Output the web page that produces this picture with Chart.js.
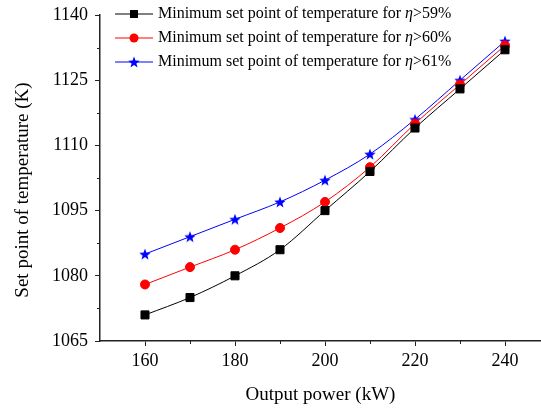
<!DOCTYPE html>
<html>
<head>
<meta charset="utf-8">
<script src="https://cdn.jsdelivr.net/npm/chart.js@4.4.0/dist/chart.umd.min.js"></script>
<style>
  html, body { margin: 0; padding: 0; background: #fff; }
  #wrap { width: 541px; height: 408px; }
</style>
</head>
<body>
<div id="wrap"><canvas id="myChart"></canvas></div>
<script>
// output power (kW) and minimum temperature set points (K)
const power = [160, 170, 180, 190, 200, 210, 220, 230, 240];
const eta59 = [1071, 1075, 1080, 1086, 1095, 1104, 1114, 1123, 1132];
const eta60 = [1078, 1082, 1086, 1091, 1097, 1105, 1115, 1124, 1133];
const eta61 = [1085, 1089, 1093, 1097, 1102, 1108, 1116, 1125, 1134];
const seriesNames = ['59%', '60%', '61%'];
const xTicks = [160, 180, 200, 220, 240];
const yTitle = 'Set point of temperature (K)';

const FONT = '"Liberation Serif", "Times New Roman", serif';

// filled five-point star marker
function makeStar(color, r) {
    const c = document.createElement('canvas');
    const s = Math.ceil(r * 2 + 2);
    c.width = s; c.height = s;
    const g = c.getContext('2d');
    g.fillStyle = color;
    g.beginPath();
    for (let i = 0; i < 10; i++) {
        const rad = i % 2 === 0 ? r : r * 0.42;
        const a = -Math.PI / 2 + i * Math.PI / 5;
        const px = s / 2 + rad * Math.cos(a);
        const py = s / 2 + 0.6 + rad * Math.sin(a);
        i === 0 ? g.moveTo(px, py) : g.lineTo(px, py);
    }
    g.closePath();
    g.fill();
    return c;
}
const star = makeStar('#0000ff', 6);

function toXY(arr) {
    return arr.map((v, i) => ({ x: power[i], y: v }));
}

// legend drawn by hand so the eta can be italic
const legendPlugin = {
    id: 'etaLegend',
    afterDraw(chart) {
        const ctx = chart.ctx;
        const rows = [14, 38, 62];
        ctx.save();
        chart.data.datasets.forEach((ds, i) => {
            const y = rows[i];
            ctx.strokeStyle = ds.borderColor;
            ctx.lineWidth = 1;
            ctx.beginPath();
            ctx.moveTo(115, y); ctx.lineTo(153, y);
            ctx.stroke();
            if (ds.pointStyle === 'rect') {
                ctx.fillStyle = ds.backgroundColor;
                ctx.fillRect(134 - 4, y - 4, 8, 8);
            } else if (ds.pointStyle === 'circle') {
                ctx.fillStyle = ds.backgroundColor;
                ctx.beginPath(); ctx.arc(134, y, 4.5, 0, Math.PI * 2); ctx.fill();
            } else {
                ctx.drawImage(ds.pointStyle, 134 - ds.pointStyle.width / 2, y - ds.pointStyle.height / 2);
            }
            ctx.fillStyle = '#000';
            ctx.textBaseline = 'middle';
            let x = 158;
            const a = 'Minimum set point of temperature for ';
            ctx.font = '16px ' + FONT;
            ctx.fillText(a, x, y);
            x += ctx.measureText(a).width;
            ctx.font = 'italic 16px ' + FONT;
            ctx.fillText('\u03B7', x, y);
            x += ctx.measureText('\u03B7').width;
            ctx.font = '16px ' + FONT;
            ctx.fillText('>' + seriesNames[i], x, y);
        });
        ctx.restore();
    }
};

// short minor ticks halfway between the labelled ones, plus the y title
const extras = {
    id: 'extras',
    afterDraw(chart) {
        const ctx = chart.ctx;
        const xs = chart.scales.x, ys = chart.scales.y;
        ctx.save();
        ctx.strokeStyle = '#222';
        ctx.lineWidth = 1;
        [170, 190, 210, 230].forEach(v => {
            const px = Math.round(xs.getPixelForValue(v)) + 0.5;
            ctx.beginPath(); ctx.moveTo(px, ys.bottom); ctx.lineTo(px, ys.bottom + 3); ctx.stroke();
        });
        [1072.5, 1087.5, 1102.5, 1117.5, 1132.5].forEach(v => {
            const py = Math.round(ys.getPixelForValue(v)) + 0.5;
            ctx.beginPath(); ctx.moveTo(xs.left, py); ctx.lineTo(xs.left - 3, py); ctx.stroke();
        });
        ctx.translate(23, 190);
        ctx.rotate(-Math.PI / 2);
        ctx.fillStyle = '#000';
        ctx.font = '19px ' + FONT;
        ctx.textAlign = 'center';
        ctx.textBaseline = 'middle';
        ctx.fillText(yTitle, 0, 0);
        ctx.restore();
    }
};

const ctx = document.getElementById('myChart');
new Chart(ctx, {
    type: 'line',
    data: {
        datasets: [
            {
                label: 'eta>59%',
                data: toXY(eta59),
                borderColor: '#000000',
                backgroundColor: '#000000',
                pointStyle: 'rect',
                pointRadius: 5.7,
                borderWidth: 1,
            },
            {
                label: 'eta>60%',
                data: toXY(eta60),
                borderColor: '#ff0000',
                backgroundColor: '#ff0000',
                pointStyle: 'circle',
                pointRadius: 4.5,
                borderWidth: 1,
            },
            {
                label: 'eta>61%',
                data: toXY(eta61),
                borderColor: '#0000ff',
                backgroundColor: '#0000ff',
                pointStyle: star,
                pointRadius: 6,
                borderWidth: 1,
            },
        ]
    },
    options: {
        responsive: true,
        maintainAspectRatio: false,
        animation: false,
        layout: { autoPadding: false, padding: { top: 15, right: 0, left: 0, bottom: 0 } },
        elements: {
            line: { cubicInterpolationMode: 'monotone', fill: false },
            point: { borderWidth: 0 }
        },
        scales: {
            x: {
                type: 'linear',
                min: 150,
                max: 248,
                afterBuildTicks: s => { s.ticks = xTicks.map(v => ({ value: v })); },
                afterFit: s => { s.height = 67; s.paddingLeft = 0; s.paddingRight = 0; },
                border: { display: true, color: '#222', width: 1.5 },
                grid: { drawOnChartArea: false, tickLength: 5, tickColor: '#222', tickWidth: 1 },
                ticks: { color: '#000', font: { family: FONT, size: 18 }, padding: 4, maxRotation: 0 },
                title: {
                    display: true,
                    text: 'Output power (kW)',
                    color: '#000',
                    font: { family: FONT, size: 19 },
                    padding: { top: 2, bottom: 2 }
                }
            },
            y: {
                min: 1065,
                max: 1140,
                ticks: {
                    stepSize: 15,
                    color: '#000',
                    font: { family: FONT, size: 18 },
                    padding: 7,
                    callback: v => String(v)
                },
                afterFit: s => { s.width = 100; s.paddingTop = 0; s.paddingBottom = 0; },
                border: { display: true, color: '#222', width: 1.5 },
                grid: { drawOnChartArea: false, tickLength: 5, tickColor: '#222', tickWidth: 1 },
                title: { display: false }
            }
        },
        plugins: {
            legend: { display: false },
            tooltip: { enabled: false }
        }
    },
    plugins: [legendPlugin, extras]
});
</script>
</body>
</html>
